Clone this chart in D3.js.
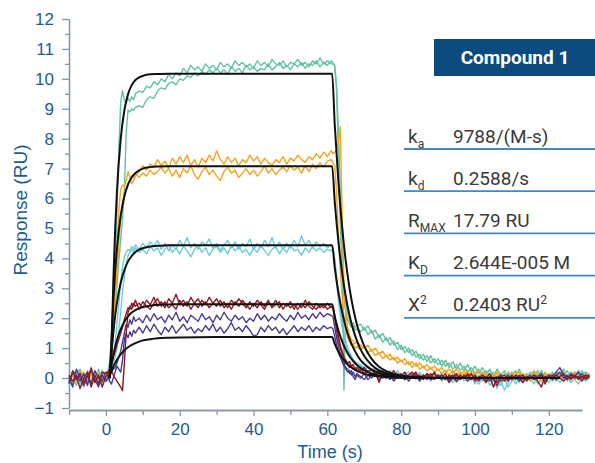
<!DOCTYPE html>
<html>
<head>
<meta charset="utf-8">
<script src="https://cdn.jsdelivr.net/npm/d3@7"></script>
<style>
body { margin: 0; background: #fff; }
svg { display: block; }
</style>
</head>
<body>
<div id="chart"></div>
<script>
// sample times (s) shared by all measured traces
const times = [-10,-9,-8,-7,-6,-5,-4,-3,-2,-1,0,
    0.5,1,1.5,2,2.5,3,3.5,4,4.5,5,5.5,6,6.5,7,7.5,8,
    9,10,11,12,13,14,15,16,17,18,19,20,21,22,23,24,25,26,27,28,29,30,31,32,33,34,35,36,37,38,
    39,40,41,42,43,44,45,46,47,48,49,50,51,52,53,54,55,56,57,58,59,60,61,
    61.5,62,62.5,63,63.5,64,64.5,65,65.5,66,66.5,67,67.5,68,
    69,70,71,72,73,74,75,76,77,78,79,80,81,82,83,84,85,86,87,88,89,90,91,92,93,94,95,96,97,98,
    99,100,101,102,103,104,105,106,107,108,109,110,111,112,113,114,115,116,117,118,
    119,120,121,122,123,124,125,126,127,128,129,130,131]

// measured responses (RU), two replicates per concentration
const green1 = [0.05,-0.2,0.15,0.3,-0.1,0.1,-0.15,0.2,-0.05,0.25,0.0,
    0.2,0.5,1.1,2.1,3.6,5.6,7.6,9.2,9.6,9.3,9.2,9.35,9.25,9.4,9.3,9.5,
    9.6,9.55,9.75,9.7,9.9,9.8,10.0,9.9,10.15,10.0,
    10.2,10.1,10.35,10.2,10.45,10.3,10.4,10.25,10.5,10.35,
    10.45,10.3,10.55,10.4,10.5,10.35,10.6,10.45,10.55,10.4,
    10.5,10.35,10.6,10.45,10.55,10.4,10.65,10.5,10.45,10.6,
    10.4,10.55,10.5,10.65,10.45,10.55,10.4,10.6,10.5,10.7,
    10.5,10.6,10.5,
    10.5,10.45,9.6,7.5,5.2,3.6,2.7,2.2,1.95,1.8,1.7,1.75,1.6,1.65,
    1.55,1.7,1.45,1.6,1.3,1.45,1.2,1.35,1.1,1.25,
    0.95,1.1,0.85,1.0,0.75,0.9,0.65,0.8,0.55,0.75,
    0.5,0.65,0.4,0.6,0.35,0.55,0.3,0.5,0.25,0.45,
    0.2,0.4,0.15,0.35,0.1,0.3,0.05,0.3,0.1,0.25,
    0.0,0.2,0.05,0.3,0.0,0.15,-0.05,0.2,0.05,0.25,
    0.0,0.15,-0.05,0.2,0.1,0.3,0.0,0.2,0.05,0.25,
    0.1,0.2,0.1]
const green2 = [-0.1,0.1,-0.25,0.2,0.05,-0.2,0.15,-0.1,0.3,-0.15,0.1,
    0.1,0.3,0.8,1.5,2.3,3.1,3.9,4.6,5.3,6.3,8.2,8.95,8.9,9.0,8.95,9.05,
    9.1,9.05,9.3,9.4,9.35,9.6,9.7,9.65,9.85,9.9,
    9.8,10.0,9.95,10.1,10.05,10.2,10.1,10.25,10.15,10.3,
    10.2,10.35,10.2,10.3,10.15,10.4,10.25,10.35,10.2,10.45,
    10.3,10.4,10.25,10.35,10.3,10.5,10.3,10.4,10.55,10.35,
    10.45,10.3,10.5,10.4,10.55,10.35,10.5,10.45,10.6,10.4,
    10.55,10.45,10.6,
    10.55,10.4,9.8,8.2,6.3,4.5,-0.4,2.6,2.2,1.95,1.8,1.85,1.7,1.75,
    1.8,1.6,1.75,1.5,1.6,1.35,1.5,1.25,1.35,1.1,
    1.2,0.95,1.05,0.85,0.95,0.7,0.8,0.6,0.75,0.5,
    0.65,0.45,0.6,0.4,0.5,0.3,0.45,0.25,0.4,0.2,
    0.35,0.15,0.3,0.1,0.25,0.05,0.2,-0.05,0.15,0.0,
    0.2,0.05,0.25,-0.05,0.15,0.0,0.2,0.05,0.25,0.0,
    0.15,0.05,0.2,-0.05,0.15,0.05,0.25,0.0,0.2,0.1,
    0.25,0.05,0.15]
const orange1 = [0.1,-0.15,0.2,0.05,-0.2,0.25,0.0,-0.1,0.15,-0.05,0.2,
    0.1,0.2,0.6,1.6,2.8,4.0,5.6,6.3,6.45,6.4,6.6,6.9,6.7,6.5,6.6,6.75,
    6.9,7.1,6.95,7.15,7.05,7.3,7.1,7.25,7.0,7.35,
    7.15,7.4,7.2,7.45,7.1,7.3,7.05,7.35,7.2,7.45,
    7.25,7.6,7.3,7.15,7.4,7.2,7.35,7.1,7.3,7.2,
    7.45,7.25,7.4,7.15,7.35,7.2,7.1,7.3,7.2,7.4,
    7.15,7.35,7.25,7.45,7.3,7.2,7.4,7.3,7.5,7.35,
    7.55,7.4,7.6,
    7.5,7.55,7.6,7.9,8.4,5.5,3.2,2.1,1.7,1.45,1.3,1.25,1.15,1.2,
    1.1,1.0,1.1,0.9,1.0,0.8,0.9,0.7,0.8,0.6,
    0.7,0.55,0.65,0.45,0.55,0.4,0.5,0.35,0.45,0.3,
    0.4,0.25,0.35,0.2,0.3,0.15,0.3,0.1,0.25,0.05,
    0.2,0.1,0.25,0.0,0.15,-0.05,0.1,0.2,0.0,0.15,
    -0.1,0.1,0.2,0.0,0.15,-0.05,0.1,0.25,0.05,-0.1,
    0.1,0.0,0.15,-0.05,0.1,0.2,0.0,0.15,-0.05,0.1,
    0.0,0.15,0.05]
const orange2 = [-0.05,0.15,-0.1,0.25,0.1,-0.15,0.2,0.05,-0.2,0.1,-0.1,
    0.0,0.3,0.9,1.8,2.7,3.6,4.5,5.3,5.9,6.2,6.3,6.5,6.6,6.75,6.7,6.85,
    6.7,6.85,6.75,6.95,6.8,6.9,7.05,6.85,7.0,6.75,
    6.95,6.7,7.0,6.85,7.1,6.8,6.65,6.9,7.05,6.8,
    6.95,6.75,6.6,6.9,7.05,6.85,6.95,6.7,6.85,7.0,
    6.8,6.95,6.75,6.9,7.1,6.85,7.0,6.8,6.95,7.05,
    6.9,7.1,6.95,7.05,6.85,7.1,6.9,7.15,7.0,7.2,
    7.05,7.25,7.3,
    7.2,7.1,6.2,4.8,3.6,2.7,2.0,1.6,1.35,1.2,1.1,1.15,1.0,1.05,
    0.95,1.05,0.85,0.95,0.75,0.85,0.65,0.75,0.6,0.7,
    0.5,0.6,0.45,0.55,0.35,0.5,0.3,0.4,0.25,0.35,
    0.2,0.3,0.15,0.25,0.1,0.25,0.05,0.2,0.1,0.25,
    0.0,0.15,0.05,0.2,-0.05,0.1,0.0,0.15,-0.1,0.05,
    0.15,-0.05,0.1,0.2,0.0,0.1,-0.1,0.05,0.15,0.0,
    0.2,0.05,-0.05,0.1,0.0,0.15,-0.05,0.1,0.2,0.0,
    0.1,-0.05,0.1]
const cyan1 = [-0.3,0.1,0.0,-0.2,0.2,-0.1,0.25,-0.15,0.05,-0.25,0.1,
    0.1,0.2,0.4,0.7,1.2,1.8,2.5,3.2,3.7,4.05,4.2,4.3,4.25,4.4,4.3,4.45,
    4.3,4.5,4.35,4.55,4.4,4.6,4.3,4.5,4.25,4.45,
    4.3,4.6,4.4,4.7,4.35,4.5,4.3,4.55,4.45,4.65,
    4.35,4.5,4.25,4.45,4.6,4.35,4.55,4.3,4.5,4.4,
    4.65,4.3,4.5,4.35,4.6,4.4,4.7,4.35,4.55,4.3,
    4.5,4.35,4.6,4.4,4.75,4.45,4.6,4.35,4.55,4.4,
    4.5,4.35,4.45,
    4.4,3.9,3.2,2.6,2.1,1.7,1.4,1.15,0.95,0.8,0.7,0.6,0.5,0.45,
    0.4,0.3,0.35,0.2,0.3,0.15,0.25,0.1,0.2,0.05,
    0.25,0.1,0.2,0.0,0.15,-0.05,0.2,0.05,0.15,-0.1,
    0.1,0.0,0.2,-0.05,0.1,-0.15,0.05,0.15,-0.1,0.0,
    0.1,-0.2,0.05,-0.1,0.1,-0.25,-0.05,-0.35,-0.1,-0.4,
    -0.15,0.05,-0.2,0.0,-0.15,0.1,-0.1,0.05,-0.2,0.0,
    -0.15,0.1,-0.1,0.05,-0.15,0.0,-0.1,0.1,-0.05,-0.2,
    0.05,-0.1,0.0]
const cyan2 = [0.0,-0.25,0.2,-0.05,-0.3,0.15,-0.2,0.1,-0.15,0.2,-0.05,
    -0.1,0.1,0.2,0.4,0.7,1.0,1.6,2.2,2.9,3.4,3.8,4.1,4.2,4.3,4.2,4.35,
    4.2,4.3,4.15,4.4,4.25,4.35,4.1,4.3,4.45,4.2,
    4.35,4.15,4.4,4.25,4.05,4.3,4.45,4.2,4.35,4.1,
    4.3,4.4,4.2,4.35,4.15,4.45,4.25,4.4,4.2,4.3,
    4.1,4.35,4.2,4.45,4.25,4.1,4.3,4.4,4.15,4.35,
    4.2,4.45,4.25,4.3,4.1,4.35,4.2,4.4,4.25,4.35,
    4.2,4.3,4.25,
    4.3,4.0,3.4,2.8,2.3,1.9,1.5,1.25,1.0,0.85,0.75,0.6,0.55,0.5,
    0.45,0.35,0.4,0.25,0.35,0.2,0.3,0.15,0.25,0.1,
    0.15,0.0,0.1,0.2,0.05,0.15,-0.05,0.1,0.0,0.15,
    -0.05,0.1,-0.1,0.05,-0.05,0.1,-0.15,0.0,0.05,-0.1,
    0.05,-0.05,-0.2,0.0,-0.15,0.05,-0.3,-0.1,-0.25,0.0,
    -0.3,-0.1,0.05,-0.15,0.05,-0.1,0.0,-0.2,0.05,-0.1,
    0.0,-0.15,0.05,-0.1,0.1,-0.1,0.05,-0.15,0.0,0.1,
    -0.1,0.05,-0.05]
const red1 = [0.1,-0.1,0.05,-0.35,0.0,0.2,-0.3,0.1,-0.2,0.2,0.15,
    0.2,0.3,0.25,0.1,0.0,-0.1,-0.2,-0.3,-0.42,0.5,1.5,2.2,2.4,2.3,2.5,2.4,
    2.5,2.35,2.6,2.45,2.7,2.4,2.55,2.35,2.65,2.5,
    2.8,2.45,2.6,2.4,2.7,2.5,2.35,2.6,2.45,2.7,
    2.5,2.65,2.4,2.55,2.35,2.6,2.45,2.65,2.5,2.35,
    2.55,2.4,2.6,2.45,2.3,2.55,2.4,2.6,2.35,2.5,
    2.4,2.55,2.3,2.5,2.35,2.6,2.4,2.3,2.5,2.35,
    2.45,2.3,2.4,
    2.35,2.0,1.6,1.25,1.0,0.8,0.65,0.5,0.45,0.35,0.4,0.3,0.35,0.25,
    0.3,0.15,0.25,0.1,0.2,-0.15,0.15,0.05,0.2,0.0,
    0.15,0.05,0.2,0.0,0.1,0.2,-0.05,0.1,0.0,0.15,
    -0.05,0.1,0.0,0.15,-0.1,0.05,0.15,-0.05,0.1,0.0,
    0.15,-0.1,0.05,0.0,-0.15,0.05,-0.3,0.0,0.1,-0.1,
    0.05,-0.05,0.1,0.0,-0.15,0.05,0.0,0.1,-0.1,-0.3,
    0.05,0.0,0.1,-0.05,0.05,0.15,-0.05,0.1,0.0,0.05,
    -0.1,0.1,0.0]
const red2 = [-0.15,0.2,-0.05,0.15,-0.25,0.05,0.3,-0.15,0.1,-0.3,0.05,
    0.1,0.3,0.5,0.7,0.9,1.1,1.3,1.5,1.7,1.95,2.15,2.35,2.3,2.5,2.4,2.6,
    2.3,2.55,2.4,2.3,2.5,2.65,2.4,2.55,2.35,2.45,
    2.3,2.6,2.4,2.55,2.3,2.5,2.65,2.4,2.55,2.35,
    2.5,2.4,2.6,2.35,2.5,2.3,2.55,2.4,2.6,2.45,
    2.3,2.5,2.35,2.55,2.4,2.6,2.35,2.45,2.55,2.3,
    2.5,2.35,2.45,2.3,2.5,2.35,2.55,2.4,2.3,2.45,
    2.35,2.5,2.35,
    2.4,2.1,1.7,1.4,1.1,0.9,0.7,0.6,0.5,0.55,0.4,0.45,0.3,0.35,
    0.25,0.35,0.2,0.3,0.1,0.25,0.05,0.2,0.1,0.25,
    0.0,0.15,-0.05,0.1,0.2,0.0,0.1,-0.05,0.15,0.05,
    0.2,0.0,0.1,-0.05,0.1,0.0,-0.1,0.1,0.0,0.15,
    -0.05,0.05,-0.1,0.1,0.0,0.15,-0.05,-0.25,0.05,0.0,
    -0.1,0.1,-0.05,0.05,0.1,-0.1,0.05,-0.05,0.0,0.1,
    -0.2,0.05,-0.05,0.1,0.0,-0.1,0.05,0.0,0.1,-0.05,
    0.05,0.0,0.1]
const purple1 = [-0.2,0.25,0.1,-0.1,0.15,-0.25,0.35,-0.05,-0.3,0.1,-0.1,
    0.0,0.1,0.2,0.3,0.35,0.5,0.7,0.9,1.2,1.5,1.8,1.7,1.95,1.8,2.05,1.9,
    2.0,1.85,2.1,1.9,2.15,1.95,2.05,1.85,2.1,1.95,
    2.2,1.9,2.05,1.85,2.1,2.0,1.9,2.15,1.95,2.05,
    1.85,2.1,1.95,2.2,2.0,1.9,2.1,1.95,2.05,1.85,
    2.0,1.9,2.15,1.95,2.1,1.9,2.05,1.95,2.15,2.0,
    1.9,2.1,1.95,2.2,2.0,2.1,1.95,2.15,2.0,2.2,
    2.05,2.15,2.1,
    2.05,1.7,1.35,1.05,0.8,0.65,0.5,0.35,0.3,0.15,0.25,0.05,-0.05,0.1,
    0.0,0.15,-0.05,0.1,0.05,0.2,0.0,0.1,-0.05,0.15,
    0.05,0.0,0.1,-0.1,0.05,0.15,0.0,0.1,-0.05,0.05,
    0.15,0.0,0.1,-0.05,0.05,0.1,-0.1,0.05,0.0,0.1,
    -0.05,0.05,0.0,0.1,-0.1,0.05,0.0,-0.15,0.05,0.1,
    -0.05,0.05,0.0,0.1,-0.05,0.05,0.0,0.1,0.05,0.15,
    0.0,0.1,0.05,0.2,0.35,0.1,0.0,0.15,0.05,0.2,
    0.0,0.1,0.05]
const purple2 = [0.05,-0.3,0.3,0.0,-0.15,0.1,-0.2,0.25,0.0,-0.1,0.2,
    0.1,-0.1,-0.2,0.0,0.2,0.4,0.3,0.2,0.6,1.3,1.5,1.35,1.55,1.4,1.6,1.5,
    1.7,1.5,1.75,1.55,1.8,1.6,1.45,1.7,1.55,1.75,
    1.5,1.65,1.8,1.6,1.7,1.5,1.65,1.55,1.75,1.6,
    1.8,1.55,1.7,1.5,1.65,1.85,1.6,1.7,1.55,1.75,
    1.6,1.4,1.45,1.7,1.55,1.75,1.6,1.7,1.5,1.65,
    1.45,1.6,1.75,1.55,1.7,1.6,1.75,1.55,1.7,1.6,
    1.75,1.65,1.7,
    1.65,1.4,1.1,0.85,0.7,0.55,0.4,0.3,0.2,0.25,0.1,0.2,0.05,0.15,
    0.05,-0.05,0.1,0.0,0.15,-0.05,0.05,0.0,0.1,-0.1,
    0.05,0.1,-0.05,0.05,0.0,0.1,-0.1,0.05,0.1,-0.05,
    0.0,0.1,-0.05,0.05,-0.15,0.0,0.1,-0.05,0.05,-0.1,
    0.0,0.1,-0.05,0.0,0.05,-0.1,0.0,0.05,-0.1,0.0,
    0.1,-0.05,0.05,-0.1,0.05,0.0,0.1,-0.05,0.0,0.05,
    -0.1,0.05,0.0,0.1,0.2,0.0,0.1,-0.05,0.1,0.0,
    0.15,-0.05,0.05]

// fitted curves (black)
const fitTimes = [1,1.5,2,2.5,3,4,5,6,7,8,9,10,12,14,17,20,30,40,50,61.3,
    62,63,64,65,66,67,68,69,70,72,74,76,78,80,83,86,90,100,110,123]
const fitA = [0,0.85,3.19,4.95,6.26,7.98,8.95,9.49,9.79,9.96,10.05,10.1,10.15,10.16,10.17,10.17,10.17,10.17,10.17,10.17,
    8.48,6.55,5.05,3.9,3.01,2.33,1.8,1.39,1.07,0.64,0.38,0.23,0.135,0.08,0.04,0.02,0.01,0,0,0]
const fitB = [0,1.28,2.56,3.56,4.34,5.42,6.07,6.47,6.71,6.85,6.94,7.0,7.05,7.07,7.08,7.08,7.08,7.08,7.08,7.08,
    5.9,4.56,3.52,2.72,2.1,1.62,1.25,0.96,0.74,0.44,0.26,0.16,0.09,0.06,0.03,0.01,0,0,0,0]
const fitC = [0,0.84,1.52,2.07,2.52,3.18,3.61,3.9,4.08,4.21,4.29,4.34,4.4,4.42,4.44,4.44,4.44,4.44,4.44,4.44,
    3.7,2.86,2.21,1.7,1.31,1.02,0.79,0.6,0.47,0.28,0.17,0.1,0.06,0.035,0.02,0.01,0,0,0,0]
const fitD = [0,0.41,0.75,1.03,1.27,1.63,1.88,2.06,2.19,2.27,2.33,2.37,2.42,2.45,2.46,2.47,2.47,2.47,2.47,2.47,
    2.06,1.59,1.23,0.95,0.73,0.57,0.44,0.34,0.26,0.15,0.09,0.055,0.03,0.02,0.01,0,0,0,0,0]
const fitE = [0.07,0.24,0.38,0.5,0.61,0.79,0.93,1.03,1.11,1.17,1.22,1.26,1.3,1.33,1.35,1.36,1.37,1.37,1.37,1.37,
    1.14,0.88,0.68,0.53,0.41,0.31,0.24,0.19,0.14,0.09,0.05,0.03,0.02,0.01,0,0,0,0,0,0]

// axis ticks
const xTicks = [0, 20, 40, 60, 80, 100, 120]
const xMinorTicks = [-10, 10, 30, 50, 70, 90, 110]
const yTicks = [-1, 0, 1, 2, 3, 4, 5, 6, 7, 8, 9, 10, 11, 12]
const yMinorTicks = [-0.5, 0.5, 1.5, 2.5, 3.5, 4.5, 5.5, 6.5, 7.5, 8.5, 9.5, 10.5, 11.5]

// kinetics table
const paramLabels = ["k", "k", "R", "K", "X"]
const paramSubs = ["a", "d", "MAX", "D", ""]
const paramSups = ["", "", "", "", "2"]
const paramValues = ["9788/(M-s)", "0.2588/s", "17.79 RU", "2.644E-005 M", "0.2403 RU"]
const paramValueSups = ["", "", "", "", "2"]
const compoundName = "Compound 1"

const width = 595, height = 463
const blue = "#1e5b91"
const axisColor = "#8397a9"
const tickFont = "'Liberation Sans', Arial, sans-serif"
const tableFont = "Roboto, 'Liberation Sans', sans-serif"

let svg = d3.select("#chart")
    .append("svg")
    .attr("width", width)
    .attr("height", height)

svg.append("rect").attr("width", width).attr("height", height).attr("fill", "#fff")

let x = d3.scaleLinear().domain([-10, 129]).range([69, 582])
let y = d3.scaleLinear().domain([-1, 12]).range([408, 19])

const styleAxis = (g) => {
    g.selectAll("path, line").attr("stroke", axisColor).attr("stroke-width", 1.3)
    g.selectAll("text")
        .attr("fill", blue)
        .attr("font-family", tickFont)
        .attr("font-size", 17)
}

// Y axis
svg.append("g")
    .attr("transform", "translate(69,0)")
    .call(d3.axisLeft(y).tickValues(yMinorTicks).tickSize(4).tickSizeOuter(0).tickFormat(""))
    .call(styleAxis)
svg.append("g")
    .attr("transform", "translate(69,0)")
    .call(d3.axisLeft(y).tickValues(yTicks).tickSize(7).tickSizeOuter(0).tickPadding(8))
    .call(styleAxis)

// X axis
svg.append("g")
    .attr("transform", "translate(0,410)")
    .call(d3.axisBottom(x).tickValues(xMinorTicks).tickSize(5).tickSizeOuter(0).tickFormat(""))
    .call(styleAxis)
svg.append("g")
    .attr("transform", "translate(0,410)")
    .call(d3.axisBottom(x).tickValues(xTicks).tickSize(6).tickSizeOuter(0).tickPadding(7))
    .call(styleAxis)

// axis titles
svg.append("text")
    .attr("x", 330).attr("y", 457.5)
    .attr("text-anchor", "middle")
    .attr("fill", blue)
    .attr("font-family", tickFont)
    .attr("font-size", 18)
    .text("Time (s)")

svg.append("text")
    .attr("transform", "translate(27,210) rotate(-90)")
    .attr("text-anchor", "middle")
    .attr("fill", blue)
    .attr("font-family", tickFont)
    .attr("font-size", 19)
    .text("Response (RU)")

// measured traces
const traces = [
    { values: cyan1, color: "#6fcbdc" },
    { values: cyan2, color: "#6fcbdc" },
    { values: green1, color: "#62c3a0" },
    { values: green2, color: "#62c3a0" },
    { values: orange1, color: "#f6a31e" },
    { values: orange2, color: "#f6a31e" },
    { values: purple1, color: "#463c96" },
    { values: purple2, color: "#463c96" },
    { values: red1, color: "#8c1b22" },
    { values: red2, color: "#8c1b22" }
]

let traceLine = d3.line()
    .x((d, i) => x(times[i]))
    .y((d) => y(d))

svg.selectAll(".trace")
    .data(traces)
    .enter()
    .append("path")
    .attr("class", "trace")
    .attr("fill", "none")
    .attr("stroke", (d) => d.color)
    .attr("stroke-width", 1.4)
    .attr("stroke-linejoin", "round")
    .attr("d", (d) => traceLine(d.values))

// fits
let fitLine = d3.line()
    .curve(d3.curveMonotoneX)
    .x((d, i) => x(fitTimes[i]))
    .y((d) => y(d))

svg.selectAll(".fit")
    .data([fitA, fitB, fitC, fitD, fitE])
    .enter()
    .append("path")
    .attr("class", "fit")
    .attr("fill", "none")
    .attr("stroke", "#111")
    .attr("stroke-width", 2)
    .attr("d", (d) => fitLine(d))

// compound label
svg.append("rect")
    .attr("x", 434).attr("y", 39)
    .attr("width", 161).attr("height", 37)
    .attr("fill", "#0b4b80")
svg.append("text")
    .attr("x", 515).attr("y", 64)
    .attr("text-anchor", "middle")
    .attr("fill", "#fff")
    .attr("font-family", tableFont)
    .attr("font-weight", "bold")
    .attr("font-size", 19)
    .text(compoundName)

// kinetics table
paramLabels.forEach((label, i) => {
    const lineY = 149 + i * 42.2
    const base = lineY - 6.5

    let t = svg.append("text")
        .attr("x", 408).attr("y", base)
        .attr("fill", "#3a3a3a")
        .attr("font-family", tableFont)
        .attr("font-size", 19)
    t.append("tspan").text(label)
    if (paramSubs[i]) t.append("tspan").attr("font-size", 12).attr("dy", 5).text(paramSubs[i])
    if (paramSups[i]) t.append("tspan").attr("font-size", 12).attr("dy", -7).text(paramSups[i])

    let v = svg.append("text")
        .attr("x", 453).attr("y", base)
        .attr("fill", "#3a3a3a")
        .attr("font-family", tableFont)
        .attr("font-size", 19)
    v.append("tspan").text(paramValues[i])
    if (paramValueSups[i]) v.append("tspan").attr("font-size", 12).attr("dy", -7).text(paramValueSups[i])

    svg.append("line")
        .attr("x1", 404).attr("x2", 595)
        .attr("y1", lineY).attr("y2", lineY)
        .attr("stroke", "#3f89c5")
        .attr("stroke-width", 1.8)
})
</script>
</body>
</html>
